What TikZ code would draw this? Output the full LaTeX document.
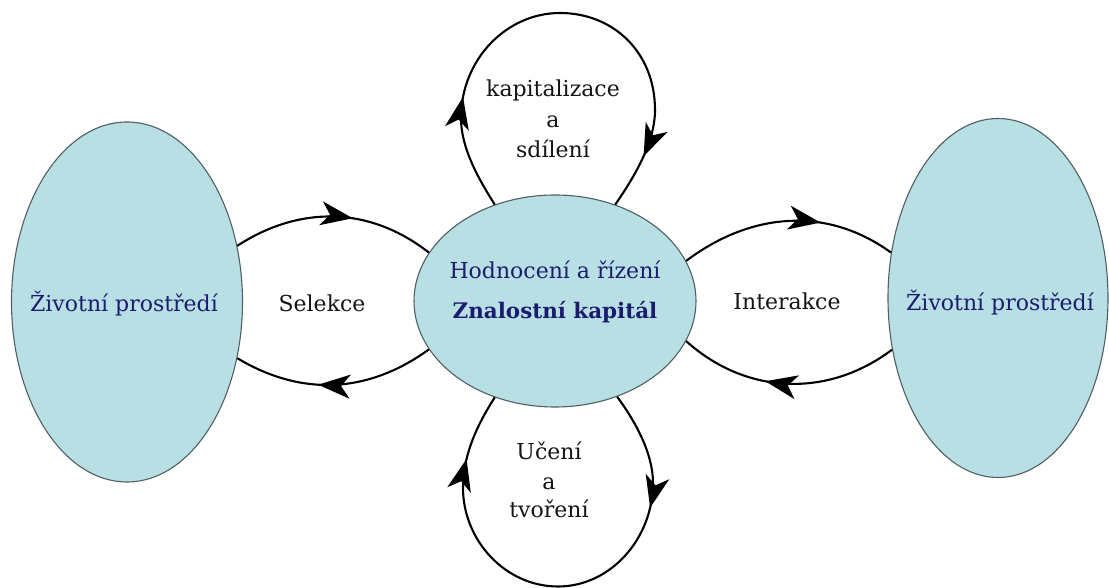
\documentclass[tikz,border=0pt]{standalone}
\usepackage{fontspec}
\setmainfont{DejaVu Serif}[Scale=0.8]
\newfontfamily\tnr{DejaVu Serif}[Scale=0.8]
\usetikzlibrary{shapes.geometric,arrows.meta,decorations.markings}
\definecolor{envfill}{RGB}{184,223,228}
\definecolor{envdraw}{RGB}{80,95,98}
\definecolor{navytext}{RGB}{28,28,110}
\definecolor{labeltext}{RGB}{20,20,20}
\tikzset{
  envell/.style={ellipse, draw=envdraw, line width=1.1pt, fill=envfill, inner sep=0pt},
  navylbl/.style={text=navytext, font=\tnr\fontsize{27.5}{31}\selectfont, anchor=base, inner sep=0pt},
  plainlbl/.style={text=labeltext, font=\tnr\fontsize{27.5}{31}\selectfont, anchor=base, inner sep=0pt},
  flowline/.style={line width=2.1pt, black},
  arrowsat/.style 2 args={postaction={decorate}, decoration={markings,
     mark=at position #1 with {\arrow{Stealth[length=32pt,width=24pt,inset=9pt]}},
     mark=at position #2 with {\arrow{Stealth[length=32pt,width=24pt,inset=9pt]}}}},
  arrowat/.style={postaction={decorate}, decoration={markings,
     mark=at position #1 with {\arrow{Stealth[length=32pt,width=24pt,inset=9pt]}}}}
}
\begin{document}
\begin{tikzpicture}[x=1pt,y=1pt]
\useasboundingbox (0,0) rectangle (1109,588);
% ellipses
\node[envell, minimum width=231pt, minimum height=360pt] (L) at (127,286) {};
\node[envell, minimum width=220pt, minimum height=359pt] (R) at (998,290) {};
\node[envell, minimum width=282pt, minimum height=212pt] (C) at (555,287) {};
% texts
\node[navylbl] (Lt) at (124,276) {Životní prostředí};
\node[navylbl] (Rt) at (1000,277) {Životní prostředí};
\node[navylbl] (Ct1) at (555,309) {Hodnocení a řízení};
\node[navylbl, font=\tnr\fontsize{26.8}{31}\selectfont\bfseries] (Ct2) at (555,269) {Znalostní kapitál};
\node[plainlbl] (sel) at (322,276) {Selekce};
\node[plainlbl] (int) at (787,278) {Interakce};
\node[plainlbl] (k1) at (553,491) {kapitalizace};
\node[plainlbl] (k2) at (553,460) {a};
\node[plainlbl] (k3) at (553,430) {sdílení};
\node[plainlbl] (u1) at (549,128) {Učení};
\node[plainlbl] (u2) at (549,98) {a};
\node[plainlbl] (u3) at (549,70) {tvoření};
% helper coordinates for loops
\coordinate (tl) at (461,470);
\coordinate (tt) at (560,575);
\coordinate (tr) at (655,478);
\coordinate (br) at (653,105);
\coordinate (bb) at (558,1.5);
\coordinate (bl) at (463,100);
% Selekce loop
\draw[flowline, arrowat=0.59] (L.27) to[out=33, in=142] (C.159);
\draw[flowline, arrowat=0.58] (C.201) to[out=216, in=-31] (L.-27);
% Interakce loop
\draw[flowline, arrowat=0.65] (C.17) to[out=37, in=144] (R.157);
\draw[flowline, arrowat=0.6] (R.206) to[out=217, in=-42] (C.-17);
% top loop
\draw[flowline, arrowsat={0.226}{0.89}] (C.122) .. controls (478,410) and (461,440) .. (tl)
   .. controls (461,528) and (506,575) .. (tt)
   .. controls (613,575) and (655,536) .. (tr)
   .. controls (655,446) and (635,412) .. (C.58);
% bottom loop
\draw[flowline, arrowsat={0.24}{0.864}] (C.303) .. controls (635,167) and (653,135) .. (br)
   .. controls (653,50) and (611,1.5) .. (bb)
   .. controls (505,1.5) and (463,48) .. (bl)
   .. controls (463,135) and (479,166) .. (C.238);
\end{tikzpicture}
\end{document}
